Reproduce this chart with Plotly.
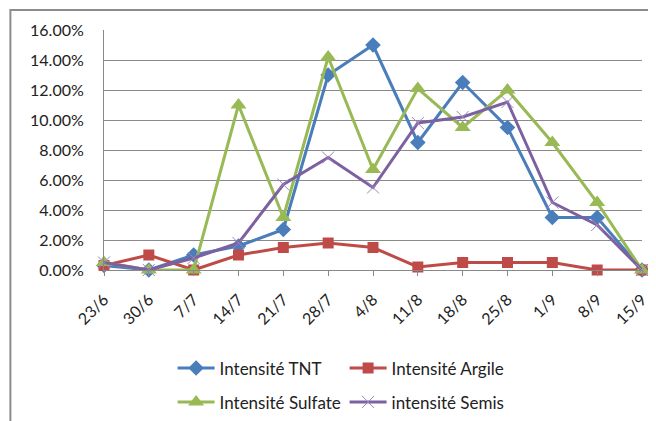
import plotly.graph_objects as go

dates = ["23/6", "30/6", "7/7", "14/7", "21/7", "28/7", "4/8", "11/8", "18/8", "25/8", "1/9", "8/9", "15/9"]
tnt = [0.3, 0.0, 1.0, 1.6, 2.7, 13.0, 15.0, 8.5, 12.5, 9.5, 3.5, 3.5, 0.0]
argile = [0.3, 1.0, 0.0, 1.0, 1.5, 1.8, 1.5, 0.2, 0.5, 0.5, 0.5, 0.0, 0.0]
sulfate = [0.5, 0.0, 0.0, 11.0, 3.5, 14.2, 6.7, 12.1, 9.5, 12.0, 8.5, 4.5, 0.0]
semis = [0.5, 0.0, 0.8, 1.8, 5.7, 7.5, 5.5, 9.8, 10.2, 11.2, 4.5, 3.0, 0.0]
y_ticks = [0, 2, 4, 6, 8, 10, 12, 14, 16]

xs = list(range(len(dates)))
FONT = "Lato, Carlito, 'Open Sans', sans-serif"

fig = go.Figure()
series = [
    ("Intensité TNT", tnt, "#4a7ebb", dict(symbol="diamond", size=12), "legend"),
    ("Intensité Argile", argile, "#be4b48", dict(symbol="square", size=11), "legend"),
    ("Intensité Sulfate", sulfate, "#98b954", dict(symbol="triangle-up", size=14), "legend2"),
    ("intensité Semis", semis, "#7d60a0", dict(symbol="x-thin", size=12, line=dict(width=1, color="#9b86c0")), "legend2"),
]
for name, vals, color, marker, lg in series:
    fig.add_trace(go.Scatter(
        x=xs, y=[v / 100 for v in vals], name=name, mode="lines+markers",
        line=dict(color=color, width=3), marker=dict(color=color, **marker),
        cliponaxis=False, legend=lg,
    ))

legend_common = dict(orientation="h", xanchor="left", yanchor="top",
                     xref="container", yref="container",
                     font=dict(family=FONT, size=17, color="#222"),
                     entrywidth=120, itemwidth=37, bgcolor="rgba(0,0,0,0)",
                     tracegroupgap=0)
fig.update_layout(
    width=648, height=413,
    margin=dict(l=96, r=6, t=22, b=151),
    paper_bgcolor="white", plot_bgcolor="white",
    font=dict(family=FONT, size=16, color="#222"),
    legend=dict(x=0.254, y=0.171, **legend_common),
    legend2=dict(x=0.254, y=0.0886, **legend_common),
    xaxis=dict(
        range=[0, 12], tickmode="array", tickvals=xs, ticktext=dates,
        tickangle=-45, ticks="outside", ticklen=5, tickcolor="#888",
        ticklabelstandoff=8, ticklabeloverflow="allow",
        showline=True, linecolor="#888", linewidth=1, showgrid=False,
        zeroline=False, tickfont=dict(family=FONT, size=16, color="#222"),
    ),
    yaxis=dict(
        range=[0, 0.16], tickmode="array", tickvals=[v / 100 for v in y_ticks],
        tickformat=".2%", showgrid=True, gridcolor="#8a8a8a", gridwidth=1,
        showline=True, linecolor="#888", linewidth=1, zeroline=False,
        ticks="", ticklabelstandoff=16,
        tickfont=dict(family=FONT, size=16, color="#222"),
    ),
    shapes=[dict(type="rect", xref="paper", yref="paper",
                 x0=-0.174, x1=1.1, y0=-0.7, y1=1.0833,
                 line=dict(color="#8c8c8c", width=2), layer="below")],
)

fig.write_html("out.html")
